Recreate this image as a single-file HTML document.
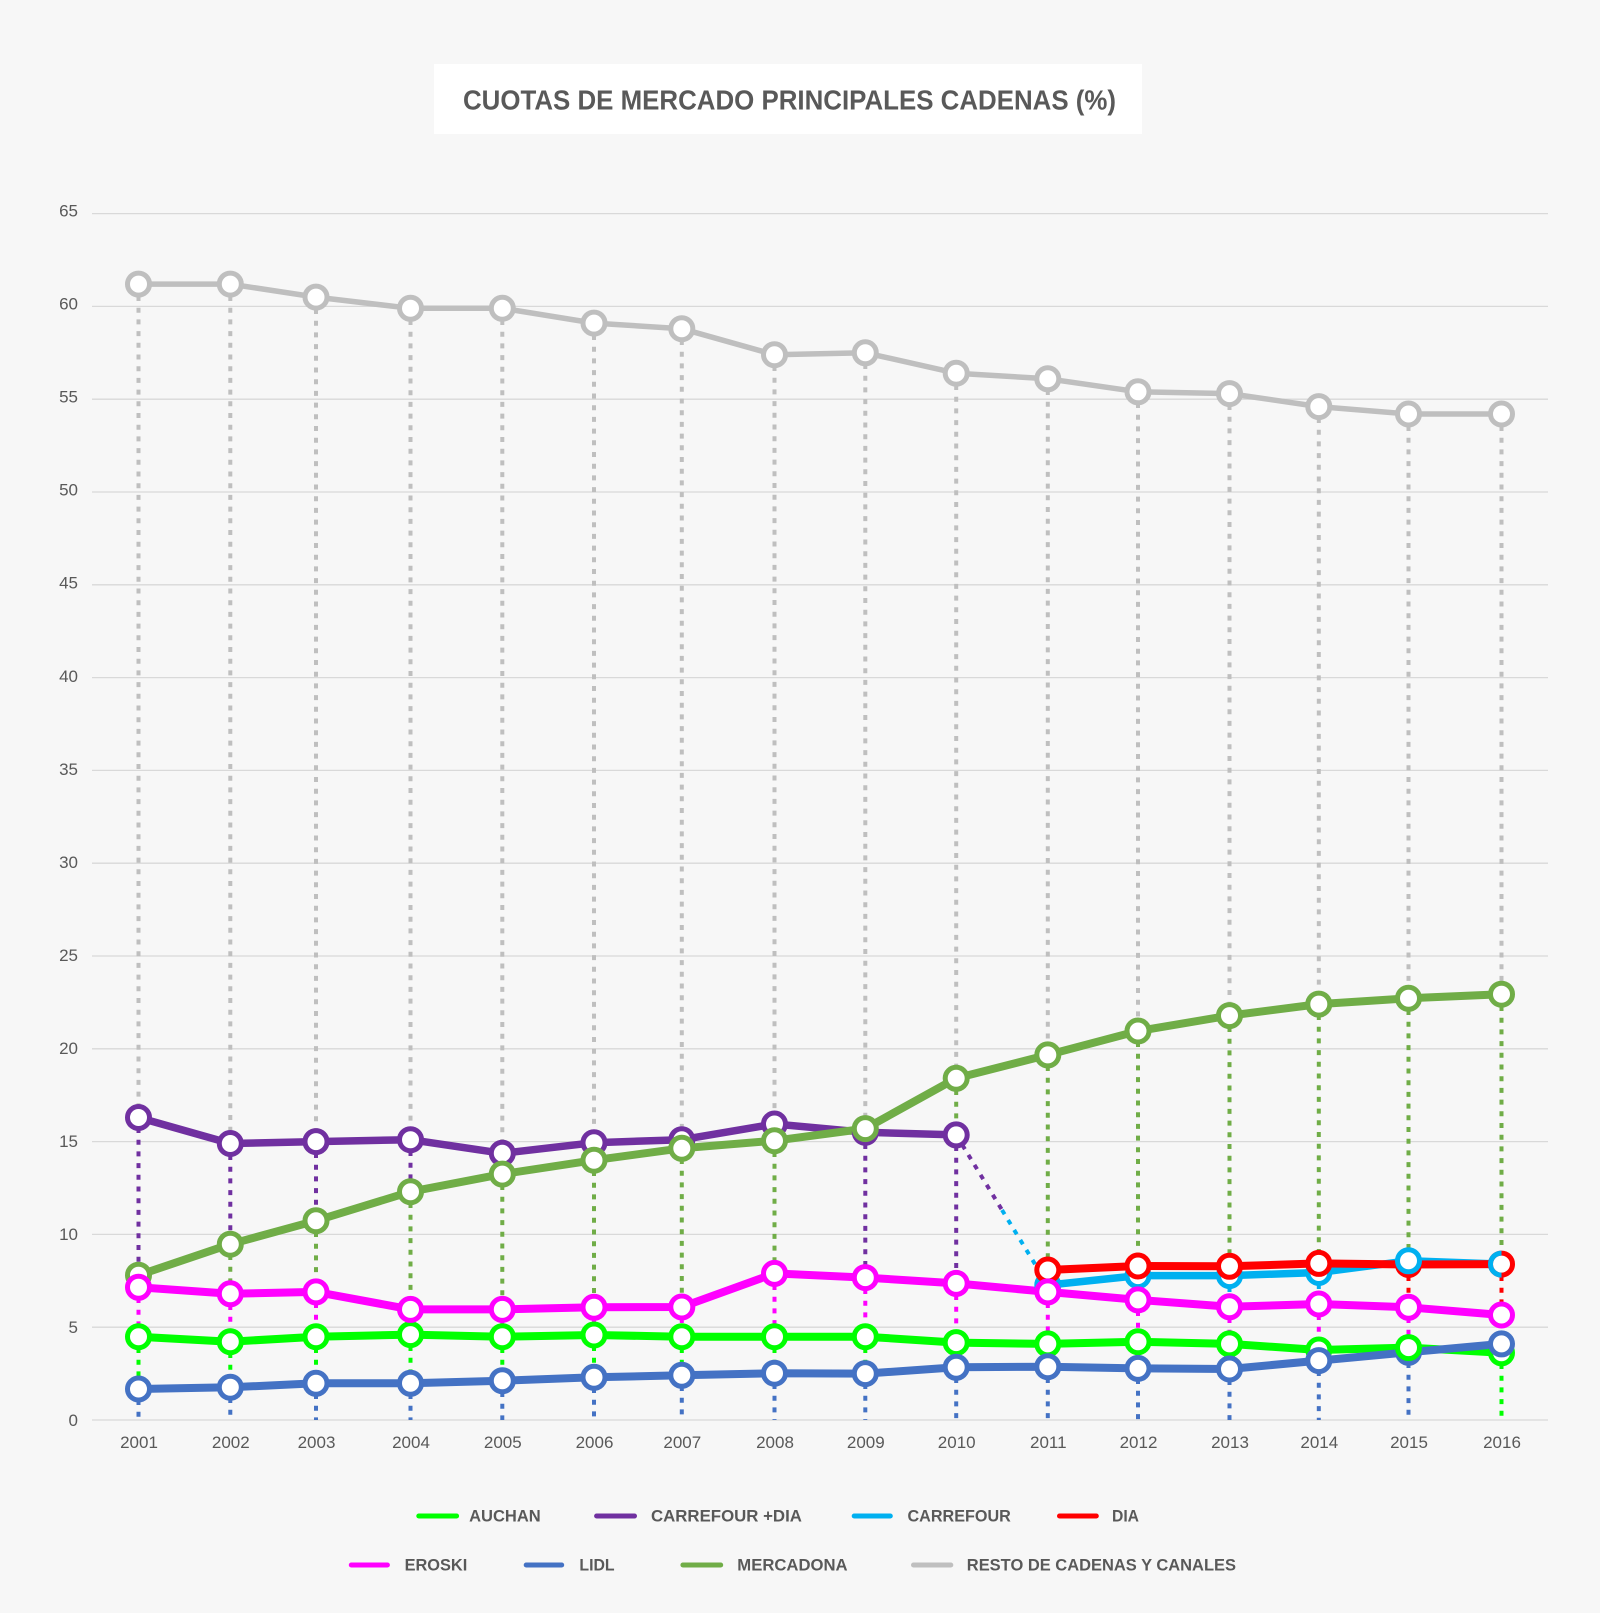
<!DOCTYPE html>
<html>
<head>
<meta charset="utf-8">
<style>
html,body{margin:0;padding:0;background:#F7F7F7;}
svg{display:block;}
text{font-family:"Liberation Sans",Arial,sans-serif;}
</style>
</head>
<body>
<svg width="1600" height="1613" viewBox="0 0 1600 1613" xmlns="http://www.w3.org/2000/svg">
<rect x="0" y="0" width="1600" height="1613" fill="#F7F7F7"/>
<!-- Title -->
<rect x="434" y="64" width="708" height="70" fill="#FFFFFF"/>
<text x="463" y="109.3" font-size="28" font-weight="bold" fill="#595959" textLength="653" lengthAdjust="spacingAndGlyphs">CUOTAS DE MERCADO PRINCIPALES CADENAS (%)</text>

<!-- Gridlines -->
<g stroke="#D9D9D9" stroke-width="1.3">
<line x1="92" x2="1548" y1="213.6" y2="213.6"/>
<line x1="92" x2="1548" y1="306.4" y2="306.4"/>
<line x1="92" x2="1548" y1="399.2" y2="399.2"/>
<line x1="92" x2="1548" y1="492" y2="492"/>
<line x1="92" x2="1548" y1="584.8" y2="584.8"/>
<line x1="92" x2="1548" y1="677.6" y2="677.6"/>
<line x1="92" x2="1548" y1="770.4" y2="770.4"/>
<line x1="92" x2="1548" y1="863.2" y2="863.2"/>
<line x1="92" x2="1548" y1="956" y2="956"/>
<line x1="92" x2="1548" y1="1048.8" y2="1048.8"/>
<line x1="92" x2="1548" y1="1141.6" y2="1141.6"/>
<line x1="92" x2="1548" y1="1234.4" y2="1234.4"/>
<line x1="92" x2="1548" y1="1327.2" y2="1327.2"/>
<line x1="92" x2="1548" y1="1420" y2="1420"/>
</g>

<!-- Y labels -->
<g font-size="17" fill="#595959" text-anchor="end">
<text x="78" y="216.6">65</text>
<text x="78" y="309.6">60</text>
<text x="78" y="402.7">55</text>
<text x="78" y="495.7">50</text>
<text x="78" y="588.7">45</text>
<text x="78" y="681.8">40</text>
<text x="78" y="774.8">35</text>
<text x="78" y="867.8">30</text>
<text x="78" y="960.8">25</text>
<text x="78" y="1053.9">20</text>
<text x="78" y="1146.9">15</text>
<text x="78" y="1239.9">10</text>
<text x="78" y="1333">5</text>
<text x="78" y="1426">0</text>
</g>

<!-- X labels -->
<g font-size="17" fill="#595959" text-anchor="middle">
<text x="139" y="1448">2001</text>
<text x="230.8" y="1448">2002</text>
<text x="316.5" y="1448">2003</text>
<text x="411" y="1448">2004</text>
<text x="502.8" y="1448">2005</text>
<text x="594.5" y="1448">2006</text>
<text x="682.3" y="1448">2007</text>
<text x="775" y="1448">2008</text>
<text x="865.8" y="1448">2009</text>
<text x="956.7" y="1448">2010</text>
<text x="1048.3" y="1448">2011</text>
<text x="1138.5" y="1448">2012</text>
<text x="1230" y="1448">2013</text>
<text x="1319.3" y="1448">2014</text>
<text x="1409" y="1448">2015</text>
<text x="1502" y="1448">2016</text>
</g>

<!-- Drop lines -->
<g fill="none" stroke-width="4" stroke-dasharray="5 6.7">
<path stroke="#BFBFBF" d="M138.5 296V1117.5M230.3 296V1143.5M316 309V1141.6M410.5 320V1139.7M502.3 320V1153.3M594 335V1142.7M681.8 340V1139.7M774.5 366V1124M865.3 364V1128.6M956.2 385V1078.3M1047.8 390V1054.9M1138 403V1031M1229.5 405V1015.6M1318.8 418V1004.1M1408.5 426V998.3M1501.5 426V994.2"/>
<path stroke="#7030A0" d="M138.5 1128V1275.2M230.3 1155V1244.2M316 1153V1220.7M410.5 1151V1191.7M502.3 1164V1174.1M594 1154V1160.2M865.3 1144V1277.6M956.2 1146V1283.4"/>
<path stroke="#70AD47" d="M230.3 1255V1293.8M316 1232V1291.9M410.5 1203V1309.4M502.3 1185V1309.4M594 1171V1307.3M681.8 1159V1307M774.5 1152V1273.4M956.2 1090V1134.9M1047.8 1066V1270M1138 1042V1266M1229.5 1027V1266.3M1318.8 1015V1263.4M1408.5 1010V1260.8M1501.5 1006V1264.1"/>
<path stroke="#FF0000" d="M1408.5 1276V1307.3M1501.5 1276V1315"/>
<path stroke="#00B0F0" d="M1138 1287V1299.9M1229.5 1287V1306.8M1318.8 1284V1304"/>
<path stroke="#FF00FF" d="M138.5 1298V1336.7M230.3 1305V1341.7M316 1303V1336.7M410.5 1320V1334.6M502.3 1320V1336.7M594 1318V1335M681.8 1318V1336.7M774.5 1285V1336.7M865.3 1289V1336.7M956.2 1295V1342.6M1047.8 1303V1343.9M1138 1311V1341.7M1229.5 1318V1343.9M1318.8 1315V1350M1408.5 1318V1347.6"/>
<path stroke="#00FF00" d="M138.5 1348V1389M230.3 1353V1387.3M316 1348V1383.3M410.5 1346V1383.3M502.3 1348V1380.7M594 1346V1377.3M681.8 1348V1375.3M774.5 1348V1373.2M865.3 1348V1373.6M956.2 1354V1367.3M1047.8 1355V1366.7M1138 1353V1368.4M1229.5 1355V1369M1501.5 1364V1420"/>
<path stroke="#4472C4" d="M138.5 1400V1420M230.3 1398V1420M316 1394V1420M410.5 1394V1420M502.3 1392V1420M594 1388V1420M681.8 1386V1420M774.5 1384V1420M865.3 1384V1420M956.2 1378V1420M1047.8 1378V1420M1138 1379V1420M1229.5 1380V1420M1318.8 1371V1420M1408.5 1363V1420"/>
<!-- transition -->
<path stroke="#7030A0" d="M956.2 1134.9L1002 1210"/>
<path stroke="#00B0F0" d="M1002 1210L1047.8 1285.1"/>
</g>

<!-- Series lines -->
<g fill="none" stroke-linejoin="round" stroke-linecap="round">
<polyline stroke="#BFBFBF" stroke-width="5.5" points="138.5,284.1 230.3,284.1 316,297.1 410.5,308.3 502.3,308.3 594,323.1 681.8,328.7 774.5,354.7 865.3,352.8 956.2,373.2 1047.8,378.8 1138,391.8 1229.5,393.6 1318.8,406.6 1408.5,414 1501.5,414"/>
<polyline stroke="#00FF00" stroke-width="8" points="138.5,1336.7 230.3,1341.7 316,1336.7 410.5,1334.6 502.3,1336.7 594,1335 681.8,1336.7 774.5,1336.7 865.3,1336.7 956.2,1342.6 1047.8,1343.9 1138,1341.7 1229.5,1343.9 1318.8,1350 1408.5,1347.6 1501.5,1352.8"/>
<polyline stroke="#4472C4" stroke-width="8" points="138.5,1389 230.3,1387.3 316,1383.3 410.5,1383.3 502.3,1380.7 594,1377.3 681.8,1375.3 774.5,1373.2 865.3,1373.6 956.2,1367.3 1047.8,1366.7 1138,1368.4 1229.5,1369 1318.8,1360.6 1408.5,1352.3 1501.5,1343.9"/>
<polyline stroke="#7030A0" stroke-width="7.5" points="138.5,1117.5 230.3,1143.5 316,1141.6 410.5,1139.7 502.3,1153.3 594,1142.7 681.8,1139.7 774.5,1124 865.3,1132.3 956.2,1134.9"/>
<polyline stroke="#70AD47" stroke-width="8" points="138.5,1275.2 230.3,1244.2 316,1220.7 410.5,1191.7 502.3,1174.1 594,1160.2 681.8,1148.3 774.5,1140.7 865.3,1128.6 956.2,1078.3 1047.8,1054.9 1138,1031 1229.5,1015.6 1318.8,1004.1 1408.5,998.3 1501.5,994.2"/>
<polyline stroke="#00B0F0" stroke-width="7.5" points="1047.8,1285.1 1138,1275.6 1229.5,1275.6 1318.8,1272.5 1408.5,1260.8 1501.5,1264.1"/>
<polyline stroke="#FF0000" stroke-width="8" points="1047.8,1270 1138,1266 1229.5,1266.3 1318.8,1263.4 1408.5,1264.5 1501.5,1264.1"/>
<polyline stroke="#FF00FF" stroke-width="8" points="138.5,1287.3 230.3,1293.8 316,1291.9 410.5,1309.4 502.3,1309.4 594,1307.3 681.8,1307 774.5,1273.4 865.3,1277.6 956.2,1283.4 1047.8,1291.9 1138,1299.9 1229.5,1306.8 1318.8,1304 1408.5,1307.3 1501.5,1315"/>
</g>

<!-- Markers -->
<g fill="#FFFFFF" stroke-width="5">
<g stroke="#BFBFBF">
<circle cx="138.5" cy="284.1" r="11"/><circle cx="230.3" cy="284.1" r="11"/><circle cx="316" cy="297.1" r="11"/><circle cx="410.5" cy="308.3" r="11"/><circle cx="502.3" cy="308.3" r="11"/><circle cx="594" cy="323.1" r="11"/><circle cx="681.8" cy="328.7" r="11"/><circle cx="774.5" cy="354.7" r="11"/><circle cx="865.3" cy="352.8" r="11"/><circle cx="956.2" cy="373.2" r="11"/><circle cx="1047.8" cy="378.8" r="11"/><circle cx="1138" cy="391.8" r="11"/><circle cx="1229.5" cy="393.6" r="11"/><circle cx="1318.8" cy="406.6" r="11"/><circle cx="1408.5" cy="414" r="11"/><circle cx="1501.5" cy="414" r="11"/>
</g>
<g stroke="#00FF00">
<circle cx="138.5" cy="1336.7" r="11"/><circle cx="230.3" cy="1341.7" r="11"/><circle cx="316" cy="1336.7" r="11"/><circle cx="410.5" cy="1334.6" r="11"/><circle cx="502.3" cy="1336.7" r="11"/><circle cx="594" cy="1335" r="11"/><circle cx="681.8" cy="1336.7" r="11"/><circle cx="774.5" cy="1336.7" r="11"/><circle cx="865.3" cy="1336.7" r="11"/><circle cx="956.2" cy="1342.6" r="11"/><circle cx="1047.8" cy="1343.9" r="11"/><circle cx="1138" cy="1341.7" r="11"/><circle cx="1229.5" cy="1343.9" r="11"/><circle cx="1318.8" cy="1350" r="11"/><circle cx="1501.5" cy="1352.8" r="11"/>
</g>
<g stroke="#4472C4">
<circle cx="138.5" cy="1389" r="11"/><circle cx="230.3" cy="1387.3" r="11"/><circle cx="316" cy="1383.3" r="11"/><circle cx="410.5" cy="1383.3" r="11"/><circle cx="502.3" cy="1380.7" r="11"/><circle cx="594" cy="1377.3" r="11"/><circle cx="681.8" cy="1375.3" r="11"/><circle cx="774.5" cy="1373.2" r="11"/><circle cx="865.3" cy="1373.6" r="11"/><circle cx="956.2" cy="1367.3" r="11"/><circle cx="1047.8" cy="1366.7" r="11"/><circle cx="1138" cy="1368.4" r="11"/><circle cx="1229.5" cy="1369" r="11"/><circle cx="1318.8" cy="1360.6" r="11"/><circle cx="1408.5" cy="1352.3" r="11"/><circle cx="1501.5" cy="1343.9" r="11"/>
</g>
<circle cx="1408.5" cy="1347.6" r="11" stroke="#00FF00"/>
<g stroke="#7030A0">
<circle cx="138.5" cy="1117.5" r="11"/><circle cx="230.3" cy="1143.5" r="11"/><circle cx="316" cy="1141.6" r="11"/><circle cx="410.5" cy="1139.7" r="11"/><circle cx="502.3" cy="1153.3" r="11"/><circle cx="594" cy="1142.7" r="11"/><circle cx="681.8" cy="1139.7" r="11"/><circle cx="774.5" cy="1124" r="11"/><circle cx="865.3" cy="1132.3" r="11"/><circle cx="956.2" cy="1134.9" r="11"/>
</g>
<g stroke="#70AD47">
<circle cx="138.5" cy="1275.2" r="11"/><circle cx="230.3" cy="1244.2" r="11"/><circle cx="316" cy="1220.7" r="11"/><circle cx="410.5" cy="1191.7" r="11"/><circle cx="502.3" cy="1174.1" r="11"/><circle cx="594" cy="1160.2" r="11"/><circle cx="681.8" cy="1148.3" r="11"/><circle cx="774.5" cy="1140.7" r="11"/><circle cx="865.3" cy="1128.6" r="11"/><circle cx="956.2" cy="1078.3" r="11"/><circle cx="1047.8" cy="1054.9" r="11"/><circle cx="1138" cy="1031" r="11"/><circle cx="1229.5" cy="1015.6" r="11"/><circle cx="1318.8" cy="1004.1" r="11"/><circle cx="1408.5" cy="998.3" r="11"/><circle cx="1501.5" cy="994.2" r="11"/>
</g>
<g stroke="#00B0F0">
<circle cx="1047.8" cy="1285.1" r="11"/><circle cx="1138" cy="1275.6" r="11"/><circle cx="1229.5" cy="1275.6" r="11"/><circle cx="1318.8" cy="1272.5" r="11"/>
</g>
<g stroke="#FF0000">
<circle cx="1047.8" cy="1270" r="11"/><circle cx="1138" cy="1266" r="11"/><circle cx="1229.5" cy="1266.3" r="11"/><circle cx="1318.8" cy="1263.4" r="11"/><circle cx="1408.5" cy="1264.5" r="11"/><circle cx="1501.5" cy="1264.1" r="11"/>
</g>
<circle cx="1408.5" cy="1260.8" r="11" stroke="#00B0F0"/>
<path d="M1501.5 1253.1A11 11 0 0 0 1501.5 1275.1" stroke="#00B0F0" fill="none"/>
<g stroke="#FF00FF">
<circle cx="138.5" cy="1287.3" r="11"/><circle cx="230.3" cy="1293.8" r="11"/><circle cx="316" cy="1291.9" r="11"/><circle cx="410.5" cy="1309.4" r="11"/><circle cx="502.3" cy="1309.4" r="11"/><circle cx="594" cy="1307.3" r="11"/><circle cx="681.8" cy="1307" r="11"/><circle cx="774.5" cy="1273.4" r="11"/><circle cx="865.3" cy="1277.6" r="11"/><circle cx="956.2" cy="1283.4" r="11"/><circle cx="1047.8" cy="1291.9" r="11"/><circle cx="1138" cy="1299.9" r="11"/><circle cx="1229.5" cy="1306.8" r="11"/><circle cx="1318.8" cy="1304" r="11"/><circle cx="1408.5" cy="1307.3" r="11"/><circle cx="1501.5" cy="1315" r="11"/>
</g>
</g>

<!-- Legend -->
<g stroke-width="5" stroke-linecap="round">
<line x1="418.8" x2="456.6" y1="1516" y2="1516" stroke="#00FF00"/>
<line x1="596.6" x2="634.5" y1="1516" y2="1516" stroke="#7030A0"/>
<line x1="854.2" x2="890.3" y1="1516" y2="1516" stroke="#00B0F0"/>
<line x1="1059.5" x2="1096.3" y1="1516" y2="1516" stroke="#FF0000"/>
<line x1="351.3" x2="387.4" y1="1565" y2="1565" stroke="#FF00FF"/>
<line x1="526.2" x2="561.7" y1="1565" y2="1565" stroke="#4472C4"/>
<line x1="682.9" x2="720.7" y1="1565" y2="1565" stroke="#70AD47"/>
<line x1="913.5" x2="950.8" y1="1565" y2="1565" stroke="#BFBFBF"/>
</g>
<g font-size="16.5" font-weight="bold" fill="#595959">
<text x="469.1" y="1521.7" textLength="71.6" lengthAdjust="spacingAndGlyphs">AUCHAN</text>
<text x="651" y="1521.7" textLength="150.9" lengthAdjust="spacingAndGlyphs">CARREFOUR +DIA</text>
<text x="907.5" y="1521.7" textLength="103.3" lengthAdjust="spacingAndGlyphs">CARREFOUR</text>
<text x="1112" y="1521.7" textLength="27" lengthAdjust="spacingAndGlyphs">DIA</text>
<text x="404.6" y="1570.7" textLength="62.7" lengthAdjust="spacingAndGlyphs">EROSKI</text>
<text x="579.4" y="1570.7" textLength="35.2" lengthAdjust="spacingAndGlyphs">LIDL</text>
<text x="737.3" y="1570.7" textLength="110.3" lengthAdjust="spacingAndGlyphs">MERCADONA</text>
<text x="966.8" y="1570.7" textLength="269.2" lengthAdjust="spacingAndGlyphs">RESTO DE CADENAS Y CANALES</text>
</g>
</svg>
</body>
</html>
